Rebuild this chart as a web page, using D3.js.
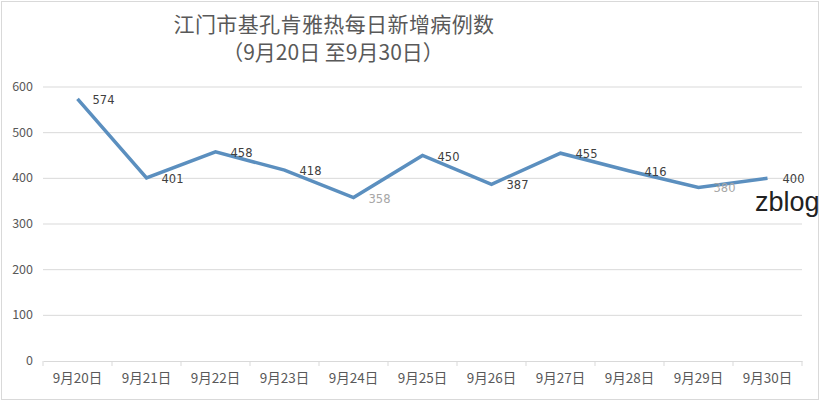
<!DOCTYPE html>
<html>
<head>
<meta charset="utf-8">
<script src="https://cdn.jsdelivr.net/npm/d3@7"></script>
<style>
  body { margin: 0; background: #fff; }
  svg { display: block; font-family: "Noto Sans CJK SC", "DejaVu Sans", sans-serif; }
</style>
</head>
<body>
<div id="chart"></div>
<script>
// data
const days = ["9月20日", "9月21日", "9月22日", "9月23日", "9月24日", "9月25日",
  "9月26日", "9月27日", "9月28日", "9月29日", "9月30日"];
const cases = [574, 401, 458, 418, 358, 450, 387, 455, 416, 380, 400];
const yTicks = [0, 100, 200, 300, 400, 500, 600];

const width = 820;
const height = 401;
const margin = { top: 87, right: 18, bottom: 40, left: 43 };

const svg = d3.select("#chart")
  .append("svg")
  .attr("width", width)
  .attr("height", height);

// outer frame
svg.append("rect")
  .attr("x", 1.5).attr("y", 1.5)
  .attr("width", width - 3).attr("height", height - 3)
  .attr("fill", "#fff")
  .attr("stroke", "#d9d9d9");

const x = d3.scaleBand()
  .domain(days)
  .range([margin.left, width - margin.right]);

const y = d3.scaleLinear()
  .domain([0, 600])
  .range([height - margin.bottom, margin.top]);

// title
const title = svg.append("text")
  .attr("text-anchor", "middle")
  .attr("fill", "#595959")
  .attr("font-size", 21);
title.append("tspan").attr("x", 334).attr("y", 32)
  .attr("letter-spacing", 0.4)
  .text("江门市基孔肯雅热每日新增病例数");
title.append("tspan").attr("x", 333).attr("y", 60).text("（9月20日 至9月30日）");

// gridlines
svg.append("g")
  .selectAll("line")
  .data(yTicks.filter((d) => d > 0))
  .join("line")
  .attr("x1", margin.left)
  .attr("x2", width - margin.right)
  .attr("y1", (d) => y(d))
  .attr("y2", (d) => y(d))
  .attr("stroke", "#d9d9d9");

// y axis labels only
svg.append("g")
  .selectAll("text")
  .data(yTicks)
  .join("text")
  .attr("x", 33)
  .attr("y", (d) => y(d) + 4)
  .attr("text-anchor", "end")
  .attr("font-size", 12.5)
  .attr("fill", "#595959")
  .text((d) => d);

// x axis
const xAxis = d3.axisBottom(x).tickSize(0).tickPadding(12);
const xg = svg.append("g")
  .attr("transform", `translate(0,${y(0)})`)
  .call(xAxis);
xg.select(".domain").attr("stroke", "#d9d9d9");
xg.selectAll(".tick text")
  .attr("font-size", 13.5)
  .attr("fill", "#595959")
  .attr("font-family", "\"Noto Sans CJK SC\", sans-serif");

// category dividers
xg.selectAll(".divider")
  .data(days.concat([null]))
  .join("line")
  .attr("class", "divider")
  .attr("x1", (d, i) => margin.left + i * x.bandwidth())
  .attr("x2", (d, i) => margin.left + i * x.bandwidth())
  .attr("y1", 0)
  .attr("y2", 5)
  .attr("stroke", "#d9d9d9");

// line
const line = d3.line()
  .x((d, i) => x(days[i]) + x.bandwidth() / 2)
  .y((d) => y(d));

svg.append("path")
  .datum(cases)
  .attr("fill", "none")
  .attr("stroke", "#5b8fbf")
  .attr("stroke-width", 3.5)
  .attr("stroke-linejoin", "miter")
  .attr("d", line);

// value labels to the right of each point
svg.append("g")
  .selectAll("text")
  .data(cases)
  .join("text")
  .attr("x", (d, i) => x(days[i]) + x.bandwidth() / 2 + 15)
  .attr("y", (d) => y(d) + 5)
  .attr("font-size", 11.5)
  .attr("fill", (d, i) => (i === 4 || i === 9 ? "#a6a6a6" : "#404040"))
  .attr("font-family", "\"DejaVu Sans\", sans-serif")
  .text((d) => d);

// watermark
svg.append("text")
  .attr("x", 755)
  .attr("y", 211)
  .attr("font-size", 27)
  .attr("fill", "#222")
  .attr("font-family", "\"Liberation Sans\", sans-serif")
  .text("zblog");
</script>
</body>
</html>
